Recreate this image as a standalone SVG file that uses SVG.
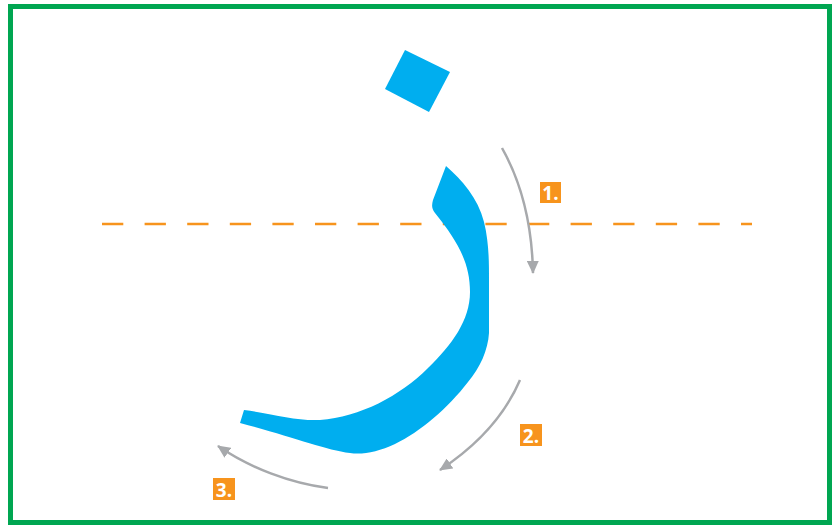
<svg xmlns="http://www.w3.org/2000/svg" width="839" height="526" viewBox="0 0 839 526">
<style>
.arrow{fill:none;stroke:#a7a9ac;stroke-width:2.5}
.lbl rect{fill:#f7941d}
.lbl text{fill:#fff;font-family:"Open Sans","Liberation Sans",sans-serif;font-weight:bold;font-size:19px;text-anchor:middle}
.ink{fill:#00aeef}
</style>
<defs>
<marker id="ah" markerUnits="userSpaceOnUse" markerWidth="14" markerHeight="12" refX="12" refY="6" orient="auto">
<path d="M0,0 L13,6 L0,12 Z" fill="#a7a9ac"/>
</marker>
</defs>
<rect x="10.5" y="6.5" width="819" height="516" fill="#fff" stroke="#00a651" stroke-width="5"/>
<line x1="102" y1="224" x2="752" y2="224" stroke="#f7941d" stroke-width="2.5" stroke-dasharray="21.3 21.3"/>
<g id="dot"><polygon class="ink" points="405,50 450,72 429,112 385,89"/></g>
<g id="body"><path class="ink" d="M446,166 C462,180 478,198 484,222 C489,242 489,262 489,280 L489,333 C488,350 480,368 468,382 C448,408 420,432 395,444 C378,452 362,455 350,453 C325,450 290,436 240,423 L244,410 C275,414 295,421 320,420 C360,417 400,396 428,368 C452,345 470,320 470,292 C470,265 460,244 435,213 C431,208 432,204 433,200 Z"/></g>
<g id="connectors">
<path class="arrow" marker-end="url(#ah)" d="M502,148 C520,180 532,220 533,273"/>
<path class="arrow" marker-end="url(#ah)" d="M520,380 C505,415 478,445 440,470"/>
<path class="arrow" marker-end="url(#ah)" d="M328,488 C290,483 250,468 218,446"/>
</g>
<g id="label1" class="lbl"><rect x="540" y="182" width="21" height="21"/><text x="550.5" y="199.5">1.</text></g>
<g id="label2" class="lbl"><rect x="520" y="424" width="22" height="22"/><text x="531" y="442.5">2.</text></g>
<g id="label3" class="lbl"><rect x="213" y="478" width="22" height="22"/><text x="224" y="496.5">3.</text></g>
</svg>
